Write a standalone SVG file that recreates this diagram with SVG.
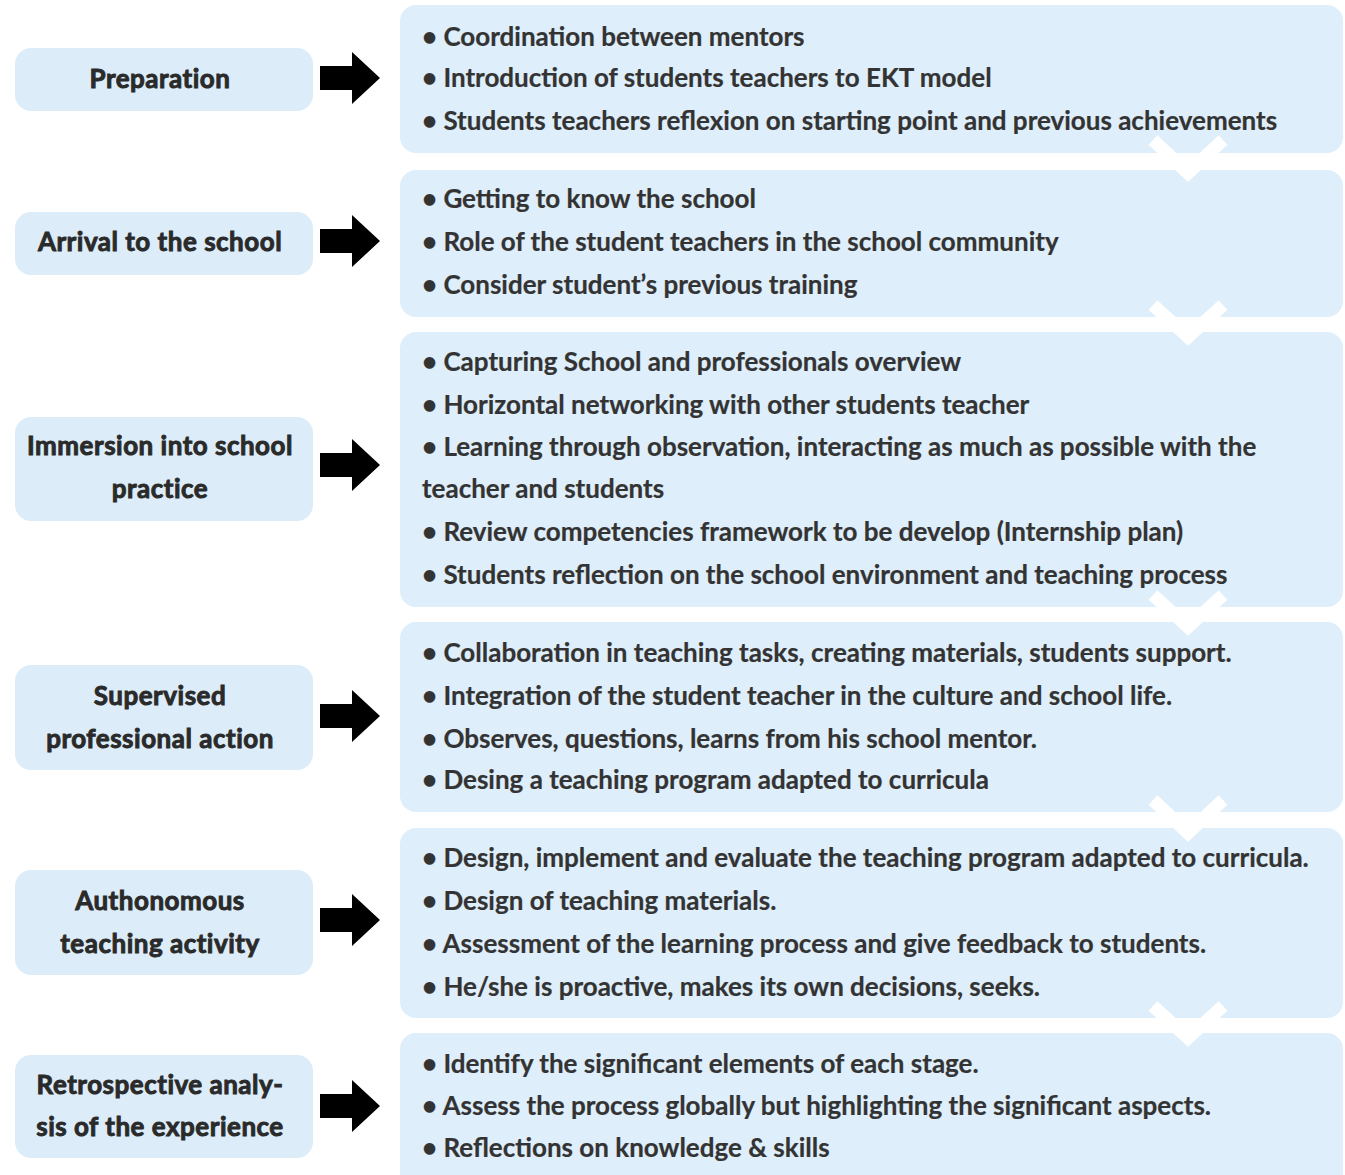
<svg xmlns="http://www.w3.org/2000/svg" width="1345" height="1175" viewBox="0 0 1345 1175">
<defs>
<style>
.bg{fill:#ffffff}
.lbox{fill:#dcedf9}
.rbox{fill:#deeefa}
.lt{font-family:Lato,"Liberation Sans",sans-serif;font-weight:700;font-size:26px;fill:#2a2a2a;stroke:#2a2a2a;stroke-width:0.9;letter-spacing:0.5px;text-anchor:middle}
.rt{font-family:Lato,"Liberation Sans",sans-serif;font-weight:700;font-size:26px;fill:#333333;stroke:#333333;stroke-width:0.2}
.arr{fill:#000000}
.chev{fill:none;stroke:#ffffff;stroke-width:13;stroke-linejoin:miter}
</style>
<path id="arrow" class="arr" d="M0,-12 H32 V-26 L60,0 L32,26 V12 H0 Z"/>
</defs>
<rect class="bg" x="0" y="0" width="1345" height="1175"/>

<g id="content-1">
<rect class="rbox" x="400" y="5" width="943" height="148" rx="16"/>
<text class="rt" x="422" y="46">• Coordination between mentors</text>
<text class="rt" x="422" y="87">• Introduction of students teachers to EKT model</text>
<text class="rt" x="422" y="130">• Students teachers reflexion on starting point and previous achievements</text>
</g>
<g id="content-2">
<rect class="rbox" x="400" y="170" width="943" height="147" rx="16"/>
<text class="rt" x="422" y="208">• Getting to know the school</text>
<text class="rt" x="422" y="251">• Role of the student teachers in the school community</text>
<text class="rt" x="422" y="294">• Consider student’s previous training</text>
</g>
<g id="content-3">
<rect class="rbox" x="400" y="332" width="943" height="275" rx="16"/>
<text class="rt" x="422" y="371">• Capturing School and professionals overview</text>
<text class="rt" x="422" y="414">• Horizontal networking with other students teacher</text>
<text class="rt" x="422" y="456">• Learning through observation, interacting as much as possible with the</text>
<text class="rt" x="422" y="498">teacher and students</text>
<text class="rt" x="422" y="541">• Review competencies framework to be develop (Internship plan)</text>
<text class="rt" x="422" y="584">• Students reflection on the school environment and teaching process</text>
</g>
<g id="content-4">
<rect class="rbox" x="400" y="622" width="943" height="190" rx="16"/>
<text class="rt" x="422" y="662">• Collaboration in teaching tasks, creating materials, students support.</text>
<text class="rt" x="422" y="705">• Integration of the student teacher in the culture and school life.</text>
<text class="rt" x="422" y="748">• Observes, questions, learns from his school mentor.</text>
<text class="rt" x="422" y="789">• Desing a teaching program adapted to curricula</text>
</g>
<g id="content-5">
<rect class="rbox" x="400" y="828" width="943" height="190" rx="16"/>
<text class="rt" x="422" y="867">• Design, implement and evaluate the teaching program adapted to curricula.</text>
<text class="rt" x="422" y="910">• Design of teaching materials.</text>
<text class="rt" x="422" y="953">• Assessment of the learning process and give feedback to students.</text>
<text class="rt" x="422" y="996">• He/she is proactive, makes its own decisions, seeks.</text>
</g>
<g id="content-6">
<rect class="rbox" x="400" y="1033" width="943" height="160" rx="16"/>
<text class="rt" x="422" y="1073">• Identify the significant elements of each stage.</text>
<text class="rt" x="422" y="1115">• Assess the process globally but highlighting the significant aspects.</text>
<text class="rt" x="422" y="1157">• Reflections on knowledge &amp; skills</text>
</g>

<g id="stage-1">
<rect class="lbox" x="15" y="48" width="298" height="63" rx="16"/>
<text class="lt" x="160" y="88">Preparation</text>
</g>
<g id="stage-2">
<rect class="lbox" x="15" y="212" width="298" height="63" rx="16"/>
<text class="lt" x="160" y="251">Arrival to the school</text>
</g>
<g id="stage-3">
<rect class="lbox" x="15" y="417" width="298" height="104" rx="16"/>
<text class="lt" x="160" y="455">Immersion into school</text>
<text class="lt" x="160" y="498">practice</text>
</g>
<g id="stage-4">
<rect class="lbox" x="15" y="665" width="298" height="105" rx="16"/>
<text class="lt" x="160" y="705">Supervised</text>
<text class="lt" x="160" y="748">professional action</text>
</g>
<g id="stage-5">
<rect class="lbox" x="15" y="870" width="298" height="105" rx="16"/>
<text class="lt" x="160" y="910">Authonomous</text>
<text class="lt" x="160" y="953">teaching activity</text>
</g>
<g id="stage-6">
<rect class="lbox" x="15" y="1055" width="298" height="103" rx="16"/>
<text class="lt" x="160" y="1094">Retrospective analy-</text>
<text class="lt" x="160" y="1136">sis of the experience</text>
</g>

<g id="connectors">
<use href="#arrow" x="320" y="78"/>
<use href="#arrow" x="320" y="241"/>
<use href="#arrow" x="320" y="465"/>
<use href="#arrow" x="320" y="716"/>
<use href="#arrow" x="320" y="920"/>
<use href="#arrow" x="320" y="1106"/>
<polyline class="chev" points="1153,140 1188,173 1223,140"/>
<polyline class="chev" points="1153,305 1188,337 1223,305"/>
<polyline class="chev" points="1153,595 1188,627 1223,595"/>
<polyline class="chev" points="1153,800 1188,833 1223,800"/>
<polyline class="chev" points="1153,1006 1188,1038 1223,1006"/>
</g>
</svg>
